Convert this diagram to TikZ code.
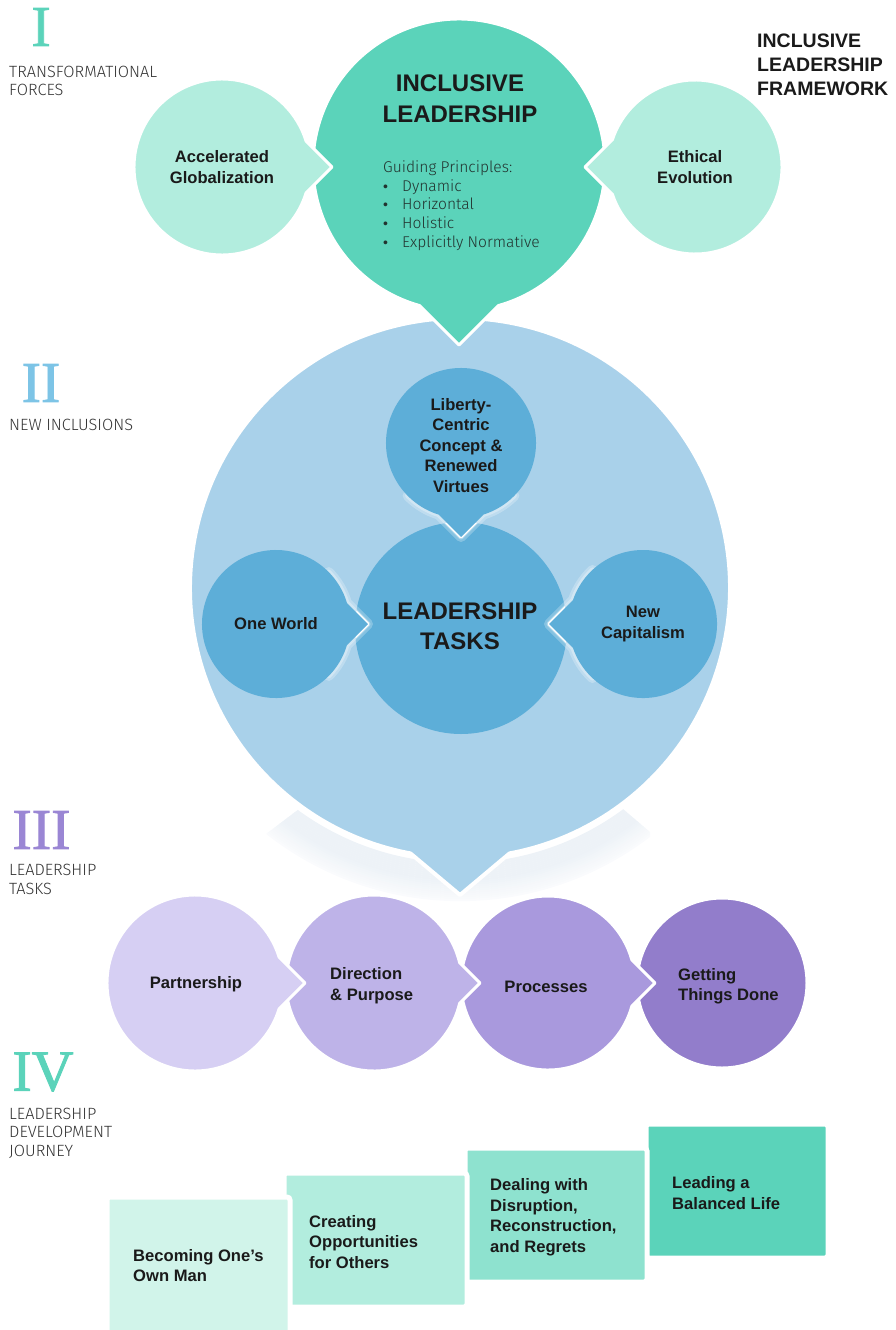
\documentclass[tikz,border=0pt]{standalone}
\usepackage{fontspec}
\setmainfont{Liberation Sans}
\newfontfamily\numfont[FakeBold=1.5]{Liberation Serif}
\IfFontExistsTF{Fira Sans Light}{\newfontfamily\thinfont{Fira Sans Light}}{\newfontfamily\thinfont{Liberation Sans}}

\definecolor{ink}{HTML}{1A1A1A}
\definecolor{graytext}{HTML}{333333}
\definecolor{guidetext}{HTML}{22332F}
\definecolor{tealdeep}{HTML}{5BD3BA}
\definecolor{tealmid}{HTML}{8EE2CF}
\definecolor{teallight}{HTML}{B2EDDE}
\definecolor{tealpale}{HTML}{D1F4EA}
\definecolor{bluelight}{HTML}{A9D1EA}
\definecolor{bluemid}{HTML}{5DAED8}
\definecolor{bluenum}{HTML}{7DC4E6}
\definecolor{bandcol}{HTML}{EDF2F7}
\definecolor{purpleA}{HTML}{D6CFF3}
\definecolor{purpleB}{HTML}{BEB3E8}
\definecolor{purpleC}{HTML}{A999DD}
\definecolor{purpleD}{HTML}{927DCB}
\definecolor{purplenum}{HTML}{9A86D4}

% circle with a triangular pointer
% #1 style, #2 cx, #3 cy, #4 radius, #5 pointer direction, #6 tip distance, #7 side angle
\newcommand{\drawbubble}[7]{%
  \pgfmathsetmacro\bk{#6/#4}%
  \pgfmathsetmacro\bs{\bk*cos(#7)-sqrt(\bk*\bk*cos(#7)*cos(#7)-\bk*\bk+1)}%
  \pgfmathsetmacro\bth{atan2(\bs*sin(#7),\bk-\bs*cos(#7))}%
  \pgfmathsetmacro\tipx{#2+#6*cos(#5)}%
  \pgfmathsetmacro\tipy{#3+#6*sin(#5)}%
  \pgfmathsetmacro\sa{#5+\bth}%
  \pgfmathsetmacro\ea{#5+360-\bth}%
  \pgfmathsetmacro\px{#2+#4*cos(\sa)}%
  \pgfmathsetmacro\py{#3+#4*sin(\sa)}%
  \path[#1] (\px,\py) arc[start angle=\sa, end angle=\ea, radius=#4] -- (\tipx,\tipy) -- cycle;
}
% soft white halo along the pointer of a bubble
\newcommand{\drawglow}[6]{%
  \pgfmathsetmacro\bk{#5/#3}%
  \pgfmathsetmacro\bs{\bk*cos(#6)-sqrt(\bk*\bk*cos(#6)*cos(#6)-\bk*\bk+1)}%
  \pgfmathsetmacro\bth{atan2(\bs*sin(#6),\bk-\bs*cos(#6))}%
  \pgfmathsetmacro\tipx{#1+#5*cos(#4)}%
  \pgfmathsetmacro\tipy{#2+#5*sin(#4)}%
  \pgfmathsetmacro\sa{#4+\bth+28}%
  \pgfmathsetmacro\sb{#4+\bth}%
  \pgfmathsetmacro\sc{#4-\bth}%
  \pgfmathsetmacro\sd{#4-\bth-28}%
  \pgfmathsetmacro\px{#1+#3*cos(\sa)}%
  \pgfmathsetmacro\py{#2+#3*sin(\sa)}%
  \pgfmathsetmacro\qx{#1+#3*cos(\sc)}%
  \pgfmathsetmacro\qy{#2+#3*sin(\sc)}%
  \draw[white, opacity=0.25, line width=10pt, line join=round, line cap=round]
    (\px,\py) arc[start angle=\sa, end angle=\sb, radius=#3] -- (\tipx,\tipy) -- (\qx,\qy)
    arc[start angle=\sc, end angle=\sd, radius=#3];
  \draw[white, opacity=0.3, line width=5pt, line join=round, line cap=round]
    (\px,\py) arc[start angle=\sa, end angle=\sb, radius=#3] -- (\tipx,\tipy) -- (\qx,\qy)
    arc[start angle=\sc, end angle=\sd, radius=#3];
}

\begin{document}
\begin{tikzpicture}[x=1pt,y=-1pt,
  bubbleshape/.style={draw=white, line width=3pt, line join=round},
  edgeonly/.style={draw=white, line width=3pt, line join=round},
  boxshape/.style={draw=white, line width=5pt, rounded corners=3pt},
  num/.style={inner sep=0pt, font=\numfont\fontsize{58}{58}\selectfont},
  sect/.style={text=graytext, inner sep=0pt, anchor=west, align=left, font=\thinfont\fontsize{16.3}{18.5}\selectfont},
  lbl/.style={text=ink, inner sep=0pt, align=center, font=\bfseries\fontsize{16.6}{20.5}\selectfont},
  lblleft/.style={lbl, align=left, anchor=west},
  bigtitle/.style={text=ink, inner sep=0pt, align=center, font=\bfseries\fontsize{24}{31}\selectfont},
  guide/.style={text=guidetext, inner sep=0pt, anchor=base west, font=\thinfont\fontsize{15.6}{18}\selectfont},
  dot/.style={text=guidetext, inner sep=0pt, anchor=base west, font=\fontsize{14}{18}\selectfont},
  header/.style={text=ink, inner sep=0pt, anchor=west, align=left, font=\bfseries\fontsize{19.5}{24}\selectfont}]

\useasboundingbox (0,0) rectangle (895,1330);

% faint reflection under the large blue circle
\begin{scope}
  \clip (266,834) -- (299,809) -- (623,809) -- (650,832) -- (650,930) -- (266,930) -- cycle;
  \foreach \i in {0,...,18} {
    \pgfmathsetmacro\pc{min(100,100-7*(\i-8))}
    \draw[bandcol!\pc!white, line width=2.3pt] (460,588) circle[radius=276+2*\i];
  }
\end{scope}

% II: new inclusions
\drawbubble{bubbleshape, line width=4pt, fill=bluelight}{460}{588}{270}{90}{307}{50}
\fill[bluemid] (461,628) circle[radius=106];
% white seams where the small circles point into the central one
\begin{scope}
  \clip (461,628) circle[radius=106];
  \drawbubble{edgeonly}{276}{624}{74}{0}{92}{45}
  \drawbubble{edgeonly}{643}{624}{74}{180}{94}{45}
  \drawbubble{edgeonly}{461}{443}{75}{90}{94}{45}
\end{scope}
\drawglow{276}{624}{74}{0}{92}{45}
\drawbubble{fill=bluemid}{276}{624}{74}{0}{92}{45}
\drawglow{643}{624}{74}{180}{94}{45}
\drawbubble{fill=bluemid}{643}{624}{74}{180}{94}{45}
\drawglow{461}{443}{75}{90}{94}{45}
\drawbubble{fill=bluemid}{461}{443}{75}{90}{94}{45}

% I: transformational forces
\drawbubble{bubbleshape, fill=tealdeep}{459}{165}{146}{90}{180}{45}
\drawbubble{bubbleshape, fill=teallight}{222}{167}{88}{0}{110}{45}
\drawbubble{bubbleshape, fill=teallight}{695}{167}{87}{180}{110}{45}

% III: leadership tasks
\fill[purpleD, draw=white, line width=3pt] (722,983) circle[radius=85];
\drawbubble{bubbleshape, fill=purpleC}{548}{983}{87}{0}{107}{45}
\drawbubble{bubbleshape, fill=purpleB}{374}{983}{88}{0}{106}{45}
\drawbubble{bubbleshape, fill=purpleA}{195}{983}{88}{0}{110}{45}

% IV: development journey
\path[boxshape, fill=tealdeep] (646,1124) rectangle (828,1258);
\path[boxshape, fill=tealmid] (465,1148) rectangle (647,1282);
\path[boxshape, fill=teallight] (284,1173) rectangle (467,1307);
\path[boxshape, fill=tealpale] (107,1197) rectangle (290,1345);

% section numerals and captions
\node[num, text=tealdeep] (numI) at (41,27) {I};
\node[sect] (capI) at (9,81) {TRANSFORMATIONAL\\FORCES};
\node[num, text=bluenum] (numII) at (41,383) {II};
\node[sect] (capII) at (9,425) {NEW INCLUSIONS};
\node[num, text=purplenum] (numIII) at (41.5,830) {III};
\node[sect] (capIII) at (9,879.5) {LEADERSHIP\\TASKS};
\node[num, text=tealdeep] (numIV) at (43,1072) {IV};
\node[sect] (capIV) at (9,1133) {LEADERSHIP\\DEVELOPMENT\\JOURNEY};

\node[header] (title) at (757,65) {INCLUSIVE\\LEADERSHIP\\FRAMEWORK};

% texts of the top group
\node[bigtitle] (incl) at (460,99) {INCLUSIVE\\LEADERSHIP};
\node[guide] (gp) at (383,172) {Guiding Principles:};
\node[dot] (b1) at (383,191) {•};
\node[guide] (g1) at (402,191) {Dynamic};
\node[dot] (b2) at (383,209.5) {•};
\node[guide] (g2) at (402,209.5) {Horizontal};
\node[dot] (b3) at (383,228) {•};
\node[guide] (g3) at (402,228) {Holistic};
\node[dot] (b4) at (383,247) {•};
\node[guide] (g4) at (402,247) {Explicitly Normative};
\node[lbl] (accel) at (222,167) {Accelerated\\Globalization};
\node[lbl] (ethic) at (695,167) {Ethical\\Evolution};

% texts of the middle group
\node[lbl] (liberty) at (461,445.5) {Liberty-\\Centric\\Concept \&\\Renewed\\Virtues};
\node[bigtitle, font=\bfseries\fontsize{24}{30}\selectfont] (tasks) at (460,626) {LEADERSHIP\\TASKS};
\node[lbl] (oneworld) at (276,624) {One World};
\node[lbl] (newcap) at (643,624) {New\\Capitalism};

% texts of the task row
\node[lbl] (partner) at (196,984) {Partnership};
\node[lblleft] (direction) at (330,985.5) {Direction\\\& Purpose};
\node[lbl] (process) at (546,987) {Processes};
\node[lblleft] (done) at (678,986) {Getting\\Things Done};

% texts of the journey boxes
\node[lblleft] (becoming) at (133,1265.5) {Becoming One’s\\Own Man};
\node[lblleft] (creating) at (309,1242) {Creating\\Opportunities\\for Others};
\node[lblleft] (dealing) at (490,1217) {Dealing with\\Disruption,\\Reconstruction,\\and Regrets};
\node[lblleft] (leading) at (672,1193) {Leading a\\Balanced Life};

\end{tikzpicture}
\end{document}
